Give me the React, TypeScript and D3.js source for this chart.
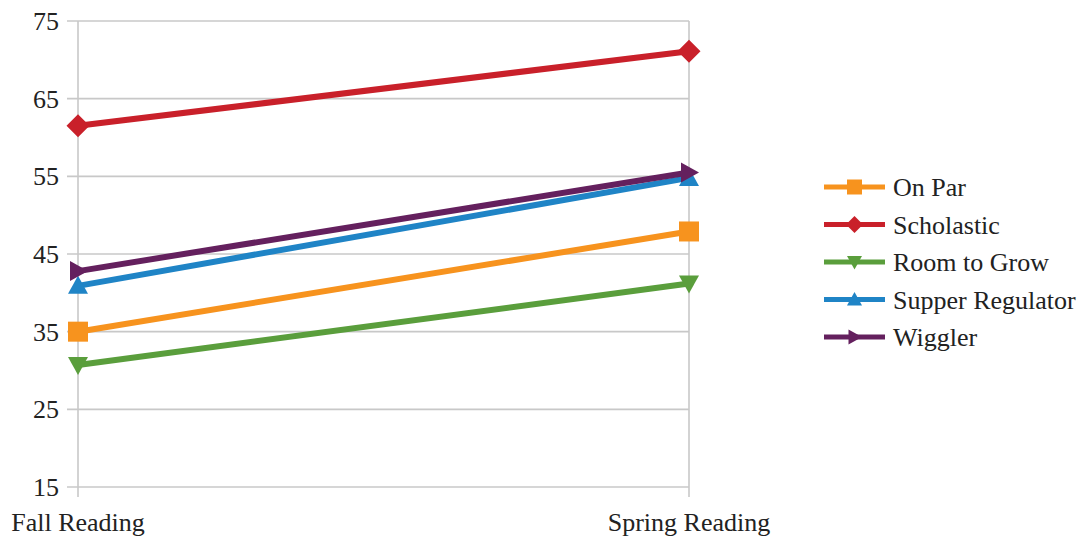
import React from "react";
import * as d3 from "d3";

const categories = ["Fall Reading", "Spring Reading"];
const seriesNames = ["On Par", "Scholastic", "Room to Grow", "Supper Regulator", "Wiggler"];
const onPar = [35.0, 47.9];
const scholastic = [61.5, 71.1];
const roomToGrow = [30.7, 41.2];
const supperRegulator = [40.9, 54.8];
const wiggler = [42.8, 55.5];
const yTicks = [15, 25, 35, 45, 55, 65, 75];

const colors = ["#F7931E", "#C9202A", "#5A9E3C", "#1F84C6", "#64205E"];
const markers = ["square", "diamond", "triDown", "triUp", "triRight"];
const seriesValues = [onPar, scholastic, roomToGrow, supperRegulator, wiggler];

const W = 1091, H = 537;
const FONT = "Liberation Serif, Times New Roman, serif";

function markerPath(kind: string, s: number): string {
  const h = s / 2;
  switch (kind) {
    case "square":
      return `M${-h},${-h}H${h}V${h}H${-h}Z`;
    case "diamond":
      return `M0,${-h}L${h},0L0,${h}L${-h},0Z`;
    case "triDown":
      return `M${-h},${-h * 0.8}L${h},${-h * 0.8}L0,${h}Z`;
    case "triUp":
      return `M${-h},${h * 0.8}L${h},${h * 0.8}L0,${-h}Z`;
    default:
      return `M${-h * 0.8},${-h}L${h},0L${-h * 0.8},${h}Z`;
  }
}

function Label(props: { x: number; y: number; anchor?: string; children: React.ReactNode }) {
  return (
    <text
      x={props.x}
      y={props.y}
      textAnchor={props.anchor || "start"}
      fontFamily={FONT}
      fontSize={26}
      style={{ fontFamily: FONT, fontSize: 26 }}
      fill="#222"
    >
      {props.children}
    </text>
  );
}

export default function App() {
  const x = d3.scalePoint<string>().domain(categories).range([78, 689]);
  const y = d3.scaleLinear().domain([15, 75]).range([487, 21]);
  const line = d3
    .line<[string, number]>()
    .x((d) => x(d[0]) as number)
    .y((d) => y(d[1]));

  const legendY0 = 187;
  const legendStep = 37.5;

  return (
    <svg
      width={W}
      height={H}
      fontFamily={FONT}
      style={{ position: "absolute", left: 0, top: 0, background: "#fff", fontFamily: FONT }}
    >
      {yTicks.map((t) => (
        <line key={"g" + t} x1={67} x2={689} y1={y(t)} y2={y(t)} stroke="#c8c8c8" strokeWidth={1.6} />
      ))}
      {categories.map((c) => (
        <line key={"v" + c} x1={x(c)} x2={x(c)} y1={y(75)} y2={497} stroke="#c8c8c8" strokeWidth={1.6} />
      ))}
      {yTicks.map((t) => (
        <Label key={"yl" + t} x={59} y={y(t) + 9} anchor="end">
          {t}
        </Label>
      ))}
      {categories.map((c) => (
        <Label key={"xl" + c} x={x(c) as number} y={531} anchor="middle">
          {c}
        </Label>
      ))}
      {seriesValues.map((vals, i) => {
        const pts: [string, number][] = categories.map((c, j) => [c, vals[j]]);
        return (
          <g key={"s" + i}>
            <path d={line(pts) || ""} fill="none" stroke={colors[i]} strokeWidth={6} strokeLinecap="butt" />
            {pts.map((p, j) => (
              <path
                key={j}
                d={markerPath(markers[i], markers[i] === "diamond" ? 23 : 20)}
                transform={`translate(${x(p[0])},${y(p[1])})`}
                fill={colors[i]}
              />
            ))}
          </g>
        );
      })}
      {seriesNames.map((n, i) => {
        const ly = legendY0 + i * legendStep;
        return (
          <g key={"lg" + i}>
            <line x1={824} x2={885} y1={ly} y2={ly} stroke={colors[i]} strokeWidth={5} />
            <path
              d={markerPath(markers[i], markers[i] === "diamond" ? 17 : 15)}
              transform={`translate(854.5,${ly})`}
              fill={colors[i]}
            />
            <Label x={893} y={ly + 9}>
              {n}
            </Label>
          </g>
        );
      })}
    </svg>
  );
}
